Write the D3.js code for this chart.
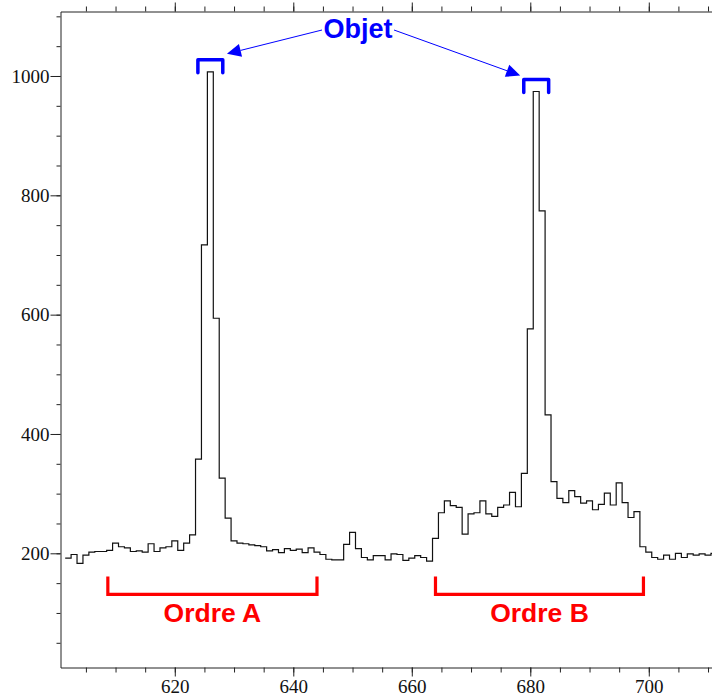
<!DOCTYPE html>
<html>
<head>
<meta charset="utf-8">
<script src="https://cdn.jsdelivr.net/npm/d3@7"></script>
<style>
  html, body { margin: 0; padding: 0; background: #fff; }
  svg { display: block; }
</style>
</head>
<body>
<svg id="chart" width="712" height="696"></svg>
<script>
// Channel numbers (bin centres) of the profile
const channels = d3.range(602, 712);
// Counts per channel
const counts = [
  192, 198, 183, 197, 202, 203, 203, 205, 217, 211,
  209, 203, 204, 202, 216, 203, 209, 211, 221, 205,
  217, 231, 358, 717, 1007, 594, 326, 259, 221, 217,
  216, 214, 213, 211, 204, 206, 201, 208, 205, 207,
  201, 209, 202, 198, 190, 189, 189, 215, 235, 208,
  193, 189, 196, 196, 189, 199, 198, 188, 192, 196,
  193, 187, 225, 268, 288, 280, 277, 232, 266, 268,
  288, 266, 262, 277, 281, 302, 278, 334, 576, 974,
  774, 432, 320, 292, 285, 305, 295, 284, 288, 273,
  282, 301, 281, 318, 285, 260, 270, 211, 202, 193,
  190, 197, 190, 200, 193, 199, 197, 199, 197, 200
];
const xMajorTicks = [620, 640, 660, 680, 700];
const xMinorTicks = d3.range(605, 711, 5);
const yMajorTicks = [200, 400, 600, 800, 1000];
const yMinorTicks = d3.range(50, 1101, 50);

// Object peaks (channel) and the two order ranges
const objectPeaks = [626, 681];
const objectLabel = "Objet";
const orderNames = ["Ordre A", "Ordre B"];
const orderStarts = [608.7, 664.0];
const orderEnds = [644.0, 699.1];

const svg = d3.select("#chart");
const pLeft = 60.5, pRight = 712, pTop = 11.5, pBottom = 667.5;

const x = d3.scaleLinear().domain([600.71, 710.67]).range([pLeft, pRight]);
const y = d3.scaleLinear().domain([8.6, 1108.1]).range([pBottom, pTop]);

svg.append("defs").append("clipPath").attr("id", "plotclip")
  .append("rect").attr("x", pLeft).attr("y", pTop)
  .attr("width", pRight - pLeft).attr("height", pBottom - pTop);

// Histogram drawn as a step line: each bin spans channel ± 0.5
const stepPts = channels.map((c, i) => [c - 0.5, counts[i]]);
stepPts.push([channels[channels.length - 1] + 0.5, counts[counts.length - 1]]);
const stepLine = d3.line()
  .x(d => x(d[0])).y(d => y(d[1]))
  .curve(d3.curveStepAfter);

svg.append("path")
  .attr("clip-path", "url(#plotclip)")
  .attr("d", stepLine(stepPts))
  .attr("fill", "none")
  .attr("stroke", "#111")
  .attr("stroke-width", 1.2);

// Axes
const tickFont = "'Liberation Serif', 'Times New Roman', serif";
function styleAxis(g) {
  g.selectAll("path, line").attr("stroke", "#222").attr("stroke-width", 1);
  g.selectAll("text").attr("fill", "#111").style("font-family", tickFont).style("font-size", "19px");
}

// left
svg.append("g").attr("transform", `translate(${pLeft},0)`)
  .call(d3.axisLeft(y).tickValues(yMinorTicks).tickSize(4).tickSizeOuter(0).tickFormat(""))
  .call(styleAxis);
svg.append("g").attr("transform", `translate(${pLeft},0)`)
  .call(d3.axisLeft(y).tickValues(yMajorTicks).tickSize(10).tickPadding(1).tickSizeOuter(0).tickFormat(d3.format("d")))
  .call(styleAxis)
  .call(g => g.select(".domain").remove());

// bottom
svg.append("g").attr("transform", `translate(0,${pBottom})`)
  .call(d3.axisBottom(x).tickValues(xMinorTicks).tickSize(5).tickSizeOuter(0).tickFormat(""))
  .call(styleAxis);
svg.append("g").attr("transform", `translate(0,${pBottom})`)
  .call(d3.axisBottom(x).tickValues(xMajorTicks).tickSize(9).tickPadding(3).tickSizeOuter(0).tickFormat(d3.format("d")))
  .call(styleAxis)
  .call(g => g.select(".domain").remove());

// top
svg.append("g").attr("transform", `translate(0,${pTop})`)
  .call(d3.axisTop(x).tickValues(xMinorTicks).tickSize(5).tickSizeOuter(0).tickFormat(""))
  .call(styleAxis);
svg.append("g").attr("transform", `translate(0,${pTop})`)
  .call(d3.axisTop(x).tickValues(xMajorTicks).tickSize(9).tickSizeOuter(0).tickFormat(""))
  .call(styleAxis)
  .call(g => g.select(".domain").remove());

// Annotations
const annFont = "'Liberation Sans', Arial, Helvetica, sans-serif";
const blue = "#0000ff", red = "#ff0000";

// Brackets over the object peaks
objectPeaks.forEach(p => {
  const peakVal = counts[channels.indexOf(p)];
  const x0 = x(p - 2.1), x1 = x(p + 2.1);
  const yb = y(peakVal) + 1, yt = y(peakVal) - 12;
  svg.append("path")
    .attr("d", `M${x0},${yb}V${yt}H${x1}V${yb}`)
    .attr("fill", "none").attr("stroke", blue)
    .attr("stroke-width", 3.5).attr("stroke-linecap", "round").attr("stroke-linejoin", "round");
});

// Label and arrows
const labelX = 358, labelY = 38;
svg.append("text")
  .attr("x", labelX).attr("y", labelY)
  .attr("text-anchor", "middle")
  .style("font-family", annFont).style("font-weight", "bold").style("font-size", "27px")
  .attr("fill", blue).text(objectLabel);

function arrow(sx, sy, tx, ty) {
  const ang = Math.atan2(ty - sy, tx - sx);
  const len = 14, hw = 6.5;
  const bx = tx - len * Math.cos(ang), by = ty - len * Math.sin(ang);
  svg.append("line").attr("x1", sx).attr("y1", sy).attr("x2", bx).attr("y2", by)
    .attr("stroke", blue).attr("stroke-width", 1);
  const px = -Math.sin(ang), py = Math.cos(ang);
  svg.append("path")
    .attr("d", `M${tx},${ty}L${bx + px * hw},${by + py * hw}L${bx - px * hw},${by - py * hw}Z`)
    .attr("fill", blue);
}
{
  const pA = objectPeaks[0], pB = objectPeaks[1];
  const vA = counts[channels.indexOf(pA)], vB = counts[channels.indexOf(pB)];
  arrow(322, 30, x(pA + 2.8), y(vA) - 18);
  arrow(394, 30, x(pB - 2.7), y(vB) - 16);
}

// Order brackets and labels
orderNames.forEach((name, i) => {
  const x0 = x(orderStarts[i]), x1 = x(orderEnds[i]);
  const yl = y(131), yt = y(161);
  svg.append("path")
    .attr("d", `M${x0},${yt}V${yl}H${x1}V${yt}`)
    .attr("fill", "none").attr("stroke", red)
    .attr("stroke-width", 3.2).attr("stroke-linejoin", "miter");
  svg.append("text")
    .attr("x", (x0 + x1) / 2).attr("y", yl + 28)
    .attr("text-anchor", "middle")
    .style("font-family", annFont).style("font-weight", "bold").style("font-size", "26.5px")
    .attr("fill", red).text(name);
});
</script>
</body>
</html>
